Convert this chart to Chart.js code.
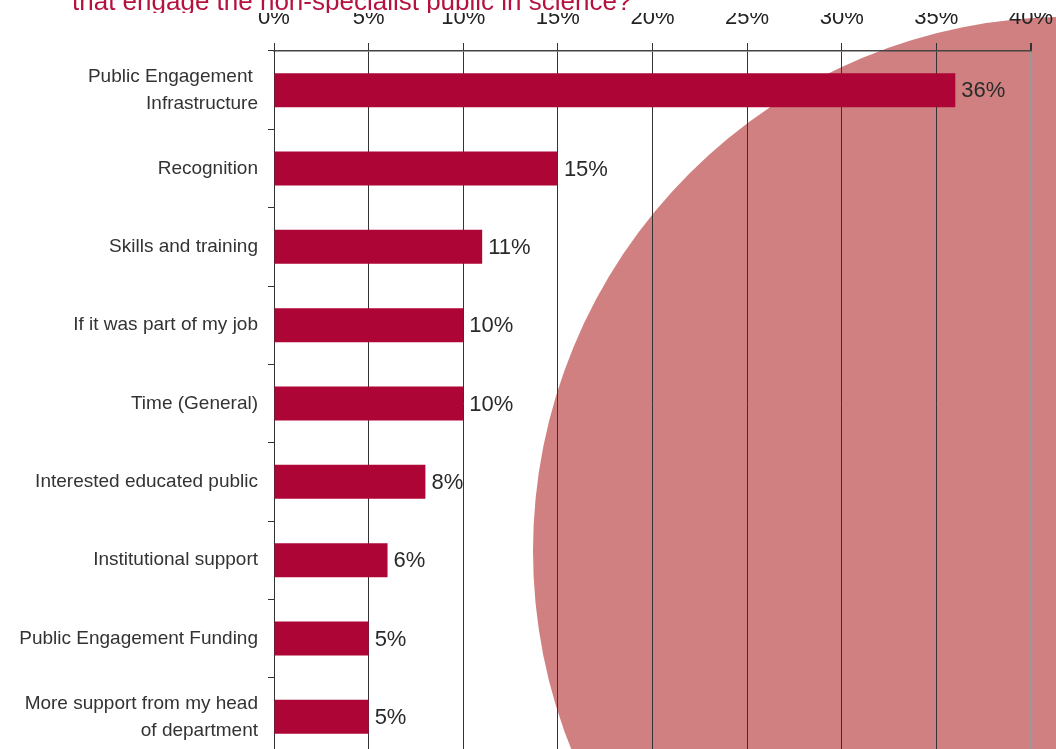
<!DOCTYPE html>
<html>
<head>
<meta charset="utf-8">
<script src="https://cdn.jsdelivr.net/npm/chart.js@4/dist/chart.umd.min.js"></script>
<style>
  html, body { margin: 0; padding: 0; overflow: hidden; background: #fff; }
  #c { position: absolute; left: 0; top: 0; display: block; }
</style>
</head>
<body>
<canvas id="c" width="1056" height="760"></canvas>
<script>
// Survey answers: what would help scientists engage the non-specialist public
const categories = [
  ["Public Engagement ", "Infrastructure"],
  "Recognition",
  "Skills and training",
  "If it was part of my job",
  "Time (General)",
  "Interested educated public",
  "Institutional support",
  "Public Engagement Funding",
  ["More support from my head", "of department"]
];
const shares = [36, 15, 11, 10, 10, 8, 6, 5, 5];
const axisMin = 0;
const axisMax = 40;
const axisStep = 5;
const titleLine = "that engage the non-specialist public in science?";

const FONT = "'Liberation Sans', Arial, Helvetica, sans-serif";
const BAR = '#AC0536';
const DISC = '#D08080';

// Large decorative disc behind the plot
const discPlugin = {
  id: 'disc',
  beforeDraw(chart) {
    const ctx = chart.ctx;
    ctx.save();
    ctx.fillStyle = DISC;
    ctx.beginPath();
    ctx.arc(1067, 551, 534, 0, Math.PI * 2);
    ctx.fill();
    ctx.restore();
  }
};

// Percent labels at the end of each bar
const valueLabels = {
  id: 'valueLabels',
  afterDatasetsDraw(chart) {
    const ctx = chart.ctx;
    const meta = chart.getDatasetMeta(0);
    ctx.save();
    ctx.font = '22px ' + FONT;
    ctx.fillStyle = '#2a2a2a';
    ctx.textAlign = 'left';
    ctx.textBaseline = 'middle';
    meta.data.forEach((bar, i) => {
      ctx.fillText(shares[i] + '%', bar.x + 6, bar.y + 1);
    });
    ctx.restore();
  }
};

// Title strip along the top edge
const titleStrip = {
  id: 'titleStrip',
  afterDraw(chart) {
    const ctx = chart.ctx;
    ctx.save();
    ctx.fillStyle = '#fff';
    ctx.fillRect(0, 0, chart.width, 13);
    ctx.beginPath();
    ctx.rect(0, 0, chart.width, 13);
    ctx.clip();
    ctx.font = '26px ' + FONT;
    ctx.fillStyle = '#B5123E';
    ctx.textAlign = 'left';
    ctx.textBaseline = 'alphabetic';
    ctx.fillText(titleLine, 72, 10);
    ctx.restore();
  }
};

new Chart(document.getElementById('c'), {
  type: 'bar',
  data: {
    labels: categories,
    datasets: [{
      data: shares,
      backgroundColor: BAR,
      borderWidth: 0,
      barPercentage: 0.435,
      categoryPercentage: 1
    }]
  },
  plugins: [discPlugin, valueLabels, titleStrip],
  options: {
    indexAxis: 'y',
    responsive: false,
    animation: false,
    devicePixelRatio: 1,
    layout: { padding: { left: 0, right: 25, top: 0, bottom: 4 } },
    plugins: {
      legend: { display: false },
      tooltip: { enabled: false },
      title: { display: false }
    },
    scales: {
      x: {
        position: 'top',
        min: axisMin,
        max: axisMax,
        afterFit(scale) {
          scale.height = 51;
          scale.paddingLeft = 0;
          scale.paddingRight = 0;
        },
        ticks: {
          stepSize: axisStep,
          padding: 12,
          color: '#222',
          font: { family: FONT, size: 22 },
          callback: v => v + '%'
        },
        grid: {
          color: ctx => ctx.index === 8 ? '#999' : '#333',
          lineWidth: ctx => ctx.index === 8 ? 2 : 1,
          tickColor: '#333',
          tickLength: 8
        },
        border: { display: true, color: '#444', width: 1.5 }
      },
      y: {
        afterFit(scale) {
          scale.width = 274;
          scale.paddingTop = 0;
          scale.paddingBottom = 0;
        },
        ticks: {
          padding: 10,
          color: '#333',
          font: { family: FONT, size: 19, lineHeight: 1.42 }
        },
        grid: {
          offset: true,
          drawOnChartArea: false,
          color: '#333',
          tickLength: 6
        },
        border: { display: true, color: '#333', width: 1 }
      }
    }
  }
});
</script>
</body>
</html>
